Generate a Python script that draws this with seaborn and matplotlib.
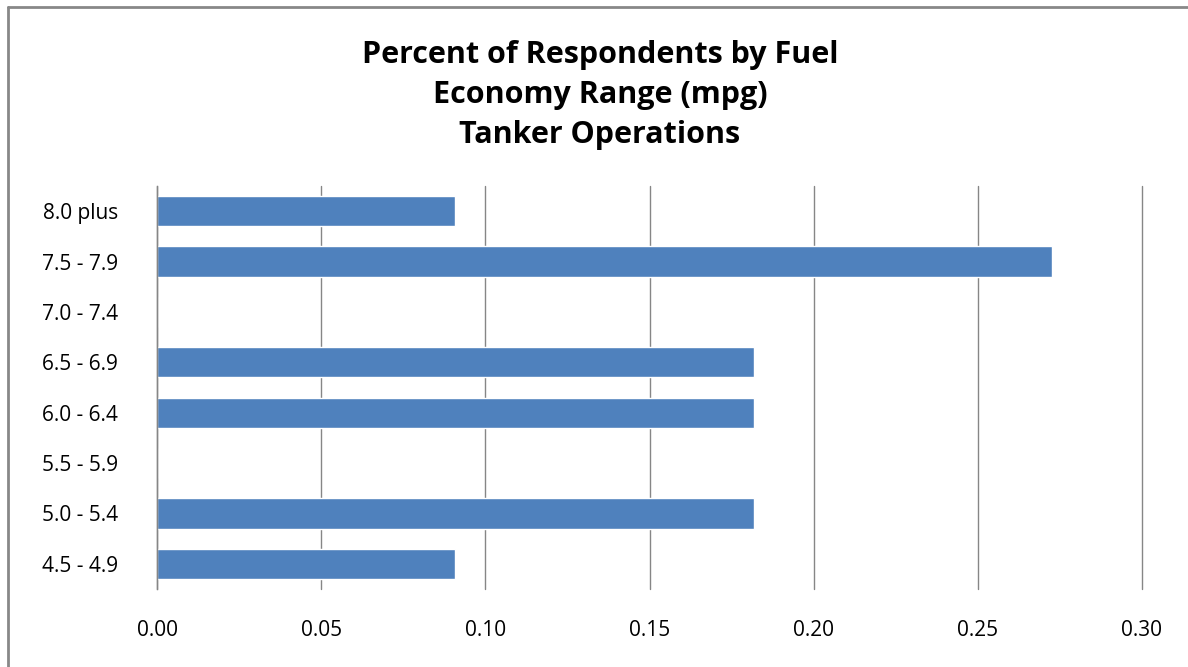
import matplotlib
matplotlib.use("Agg")
import matplotlib.pyplot as plt
import seaborn as sns
import pandas as pd
from matplotlib.lines import Line2D

categories = ["8.0 plus", "7.5 - 7.9", "7.0 - 7.4", "6.5 - 6.9", "6.0 - 6.4", "5.5 - 5.9", "5.0 - 5.4", "4.5 - 4.9"]
values = [0.0909, 0.2727, 0.0, 0.1818, 0.1818, 0.0, 0.1818, 0.0909]
xticks = [0.00, 0.05, 0.10, 0.15, 0.20, 0.25, 0.30]

df = pd.DataFrame({"range": categories, "share": values})

sns.set_theme(style="white")
plt.rcParams["font.family"] = ["Open Sans", "DejaVu Sans"]
plt.rcParams["text.color"] = "black"
plt.rcParams["xtick.color"] = "black"
plt.rcParams["ytick.color"] = "black"

fig = plt.figure(figsize=(11.88, 6.67), dpi=100)
ax = fig.add_axes([157/1188, 1 - 589/667, (1142 - 157)/1188, (589 - 186)/667])

sns.barplot(data=df, x="share", y="range", order=categories, color="#4F81BD",
            saturation=1, width=0.6, ax=ax, orient="h")

ax.set_xlim(0, 0.30)
ax.set_xticks(xticks)
ax.set_xticklabels([f"{t:.2f}" for t in xticks], fontsize=15)
ax.tick_params(axis="x", length=0, pad=22, labelcolor="black")
ax.tick_params(axis="y", length=0, pad=28, labelsize=15, labelcolor="black")
ax.set_xlabel("")
ax.set_ylabel("")
ax.grid(axis="x", color="#868686", linewidth=1)
for gl in ax.xaxis.get_gridlines():
    gl.set_clip_on(False)
ax.set_axisbelow(True)
for s in ["top", "right", "bottom"]:
    ax.spines[s].set_visible(False)
ax.spines["left"].set_color("#868686")
ax.spines["left"].set_linewidth(1)

fig.text(0.505, 1 - 95/667, "Percent of Respondents by Fuel\nEconomy Range (mpg)\nTanker Operations",
         ha="center", va="center", fontsize=22, fontweight="bold", linespacing=1.44, color="black")

fig.add_artist(Line2D([8/1188, 1], [1 - 7/667, 1 - 7/667], transform=fig.transFigure, color="#888888", linewidth=2))
fig.add_artist(Line2D([8/1188, 8/1188], [0, 1 - 7/667], transform=fig.transFigure, color="#888888", linewidth=2))

fig.savefig("out.png", dpi=100)
